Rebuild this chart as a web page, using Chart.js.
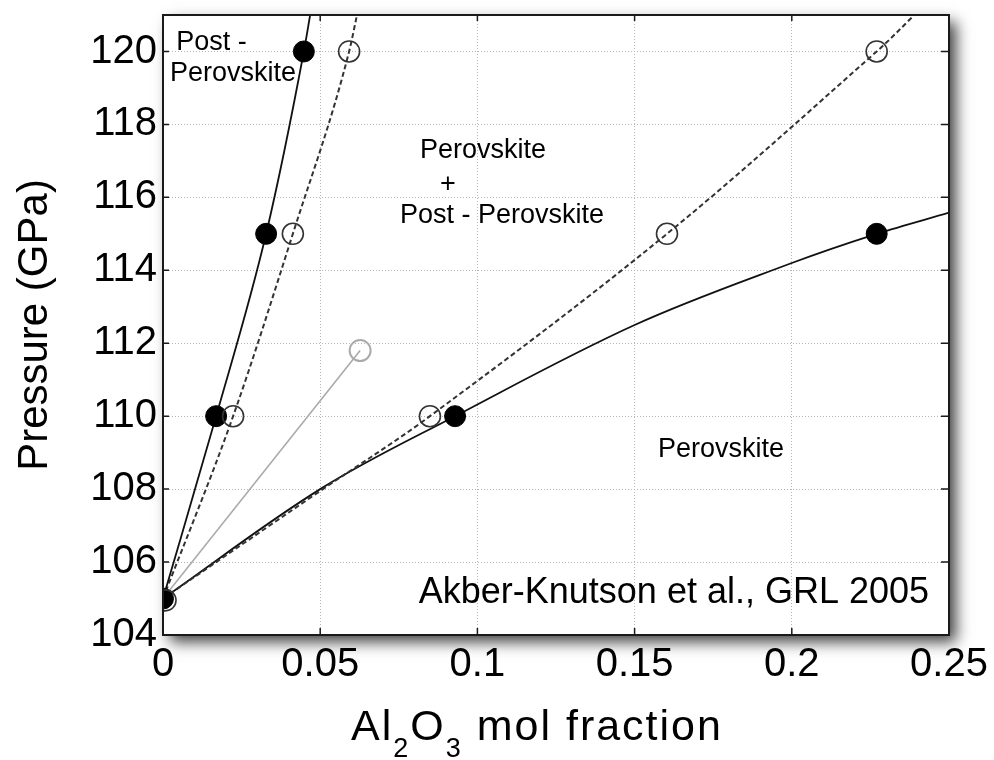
<!DOCTYPE html>
<html>
<head>
<meta charset="utf-8">
<script src="https://cdn.jsdelivr.net/npm/chart.js@4.4.1/dist/chart.umd.min.js"></script>
<style>
  body { margin: 0; background: #fff; }
  canvas { display: block; }
</style>
</head>
<body>
<canvas id="phase-chart" width="994" height="760"></canvas>
<script>
// axis ticks
const xTicks = [0, 0.05, 0.1, 0.15, 0.2, 0.25];
const xTickLabels = ['0', '0.05', '0.1', '0.15', '0.2', '0.25'];
const yTicks = [104, 106, 108, 110, 112, 114, 116, 118, 120];

// fitted boundaries
const solidLeftX = [0, 0.0169, 0.0328, 0.0448, 0.0468];
const solidLeftY = [105, 110, 115, 120, 121];
const dashLeftX = [0, 0.0223, 0.0413, 0.0592, 0.0617];
const dashLeftY = [105, 110, 115, 120, 121];
const dashRightX = [0, 0.05, 0.0849, 0.1603, 0.227, 0.239];
const dashRightY = [105, 107.95, 110, 115, 120, 121];
const solidRightX = [0, 0.05, 0.0929, 0.15, 0.2, 0.227, 0.25];
const solidRightY = [105, 108.0, 110, 112.5, 114.2, 115, 115.58];
const greyX = [0, 0.0627];
const greyY = [105, 111.8];

// measured points
const filledX = [0.0169, 0.0328, 0.0448, 0.0929, 0.227, 0];
const filledY = [110, 115, 120, 110, 115, 105];
const openX = [0.0008, 0.0223, 0.0413, 0.0592, 0.0849, 0.1603, 0.227];
const openY = [104.95, 110, 115, 120, 110, 115, 120];
const greyOpenX = [0.0627];
const greyOpenY = [111.8];

// text in the plot, placed in data units (x, baseline y)
const labelTexts = ['Post -', 'Perovskite', 'Perovskite', '+', 'Post - Perovskite', 'Perovskite', 'Akber-Knutson et al., GRL 2005'];
const labelX = [0.0154, 0.0223, 0.1018, 0.0906, 0.1078, 0.1775, 0.1625];
const labelY = [120.03, 119.18, 117.09, 116.14, 115.31, 108.88, 104.88];

const FONT = '"Liberation Sans", Arial, Helvetica, sans-serif';

function pts(xs, ys) {
    return xs.map((x, i) => ({x: x, y: ys[i]}));
}

function lineSet(xs, ys, color, dash, width, smooth) {
    return {
        data: pts(xs, ys),
        showLine: true,
        borderColor: color,
        borderWidth: width,
        borderDash: dash,
        pointRadius: 0,
        cubicInterpolationMode: smooth ? 'default' : 'monotone',
        tension: smooth ? 0.35 : 0,
        order: 2
    };
}

function markerSet(xs, ys, fill, stroke, width) {
    return {
        data: pts(xs, ys),
        showLine: false,
        pointRadius: 10.5,
        pointHoverRadius: 10.5,
        pointBackgroundColor: fill,
        pointBorderColor: stroke,
        pointBorderWidth: width,
        order: 1
    };
}

const frame = {
    id: 'frame',
    beforeDraw(chart) {
        const {ctx, chartArea: a} = chart;
        ctx.save();
        ctx.shadowColor = 'rgba(0,0,0,0.75)';
        ctx.shadowBlur = 14;
        ctx.shadowOffsetX = 7;
        ctx.shadowOffsetY = 7;
        ctx.fillStyle = '#fff';
        ctx.fillRect(a.left, a.top, a.right - a.left, a.bottom - a.top);
        ctx.restore();
    },
    afterDatasetsDraw(chart) {
        const {ctx, chartArea: a, scales} = chart;
        ctx.save();
        ctx.strokeStyle = '#1a1a1a';
        ctx.lineWidth = 2;
        ctx.strokeRect(a.left, a.top, a.right - a.left, a.bottom - a.top);
        ctx.lineWidth = 1.5;
        ctx.beginPath();
        yTicks.forEach(v => {
            const y = scales.y.getPixelForValue(v);
            ctx.moveTo(a.left, y); ctx.lineTo(a.left + 6, y);
            ctx.moveTo(a.right, y); ctx.lineTo(a.right - 8, y);
        });
        xTicks.forEach(v => {
            const x = scales.x.getPixelForValue(v);
            ctx.moveTo(x, a.bottom); ctx.lineTo(x, a.bottom - 7);
            ctx.moveTo(x, a.top); ctx.lineTo(x, a.top + 6);
        });
        ctx.stroke();

        // region labels
        ctx.fillStyle = '#000';
        ctx.textAlign = 'center';
        ctx.textBaseline = 'alphabetic';
        labelTexts.forEach((t, i) => {
            ctx.font = (i === labelTexts.length - 1 ? '36px ' : '27px ') + FONT;
            ctx.fillText(t, scales.x.getPixelForValue(labelX[i]), scales.y.getPixelForValue(labelY[i]));
        });
        ctx.restore();
    },
    afterDraw(chart) {
        // x title with subscripts
        const ctx = chart.ctx;
        const big = '43px ' + FONT, small = '27px ' + FONT;
        const parts = [['Al', big, 0], ['2', small, 17], ['O', big, 0], ['3', small, 17], [' mol fraction', big, 0]];
        ctx.save();
        ctx.fillStyle = '#000';
        ctx.textAlign = 'left';
        ctx.textBaseline = 'alphabetic';
        ctx.letterSpacing = '2px';
        let total = 0;
        parts.forEach(p => { ctx.font = p[1]; total += ctx.measureText(p[0]).width; });
        let x = 537 - total / 2;
        parts.forEach(p => {
            ctx.font = p[1];
            ctx.fillText(p[0], x, 740 + p[2]);
            x += ctx.measureText(p[0]).width;
        });
        ctx.restore();
    }
};

new Chart(document.getElementById('phase-chart'), {
    type: 'scatter',
    data: {
        datasets: [
            lineSet(solidLeftX, solidLeftY, '#111', [], 1.8, false),
            lineSet(dashLeftX, dashLeftY, '#333', [5, 3], 2, false),
            lineSet(dashRightX, dashRightY, '#333', [5, 3], 2, true),
            lineSet(solidRightX, solidRightY, '#111', [], 1.8, true),
            lineSet(greyX, greyY, '#aaa', [], 1.6, false),
            markerSet(openX, openY, 'rgba(255,255,255,0)', '#333', 1.6),
            markerSet(greyOpenX, greyOpenY, 'rgba(255,255,255,0)', '#aaa', 2),
            markerSet(filledX, filledY, '#000', '#000', 1)
        ]
    },
    options: {
        responsive: false,
        animation: false,
        layout: {padding: {left: 0, top: 15, right: 45, bottom: 0}},
        plugins: {legend: {display: false}, tooltip: {enabled: false}},
        scales: {
            x: {
                type: 'linear',
                min: 0,
                max: 0.25,
                afterBuildTicks: s => { s.ticks = xTicks.map(v => ({value: v})); },
                afterFit: s => { s.height = 125; s.paddingLeft = 0; s.paddingRight = 0; },
                grid: {color: '#b5b5b5', lineWidth: 1, drawTicks: false},
                border: {display: false, dash: [1, 2]},
                ticks: {
                    color: '#000',
                    font: {family: FONT, size: 40},
                    padding: 6,
                    maxRotation: 0,
                    callback: (v, i) => xTickLabels[i]
                }
            },
            y: {
                type: 'linear',
                min: 104,
                max: 121,
                afterBuildTicks: s => { s.ticks = yTicks.map(v => ({value: v})); },
                afterFit: s => { s.width = 163; s.paddingTop = 0; s.paddingBottom = 0; },
                grid: {color: '#b5b5b5', lineWidth: 1, drawTicks: false},
                border: {display: false, dash: [1, 2]},
                ticks: {
                    color: '#000',
                    font: {family: FONT, size: 40},
                    padding: 6,
                    callback: v => String(v)
                },
                title: {
                    display: true,
                    text: 'Pressure (GPa)',
                    color: '#000',
                    font: {family: FONT, size: 42},
                    padding: {top: 10, bottom: 0}
                }
            }
        }
    },
    plugins: [frame]
});
</script>
</body>
</html>
